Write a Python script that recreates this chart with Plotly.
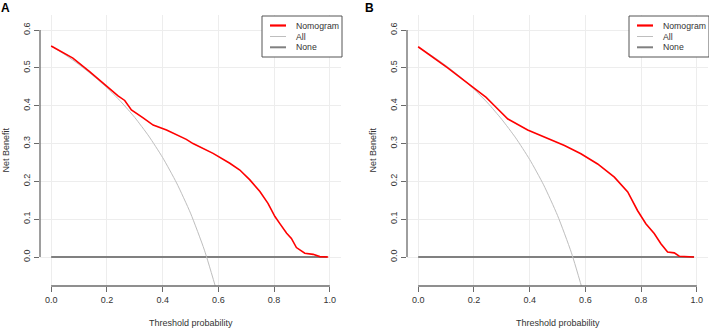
import plotly.graph_objects as go

W, H = 709, 328

# ---------------- data ----------------
thresholds_all = [0.00, 0.05, 0.10, 0.15, 0.20, 0.25, 0.30, 0.35, 0.40, 0.45, 0.50, 0.55, 0.60]
all_a = [0.558, 0.535, 0.509, 0.480, 0.448, 0.411, 0.369, 0.320, 0.263, 0.196, 0.116, 0.018, -0.105]
all_b = [0.555, 0.532, 0.506, 0.477, 0.444, 0.407, 0.364, 0.315, 0.258, 0.191, 0.110, 0.011, -0.113]

nom_a_x = [0.000, 0.078, 0.138, 0.204, 0.240, 0.264, 0.288, 0.330, 0.366, 0.414, 0.461, 0.485,
           0.509, 0.581, 0.641, 0.677, 0.713, 0.749, 0.778, 0.803, 0.820, 0.845, 0.862, 0.880,
           0.910, 0.940, 0.964, 0.994]
nom_a_y = [0.558, 0.526, 0.490, 0.449, 0.426, 0.414, 0.389, 0.368, 0.349, 0.336, 0.320, 0.311,
           0.300, 0.274, 0.248, 0.230, 0.204, 0.173, 0.142, 0.107, 0.089, 0.063, 0.049, 0.025,
           0.010, 0.007, 0.001, 0.000]

nom_b_x = [0.000, 0.106, 0.196, 0.244, 0.274, 0.322, 0.393, 0.465, 0.525, 0.584, 0.644, 0.704,
           0.752, 0.787, 0.817, 0.847, 0.871, 0.895, 0.919, 0.937, 0.990]
nom_b_y = [0.556, 0.500, 0.449, 0.422, 0.400, 0.365, 0.336, 0.313, 0.295, 0.273, 0.246, 0.211,
           0.172, 0.123, 0.088, 0.062, 0.035, 0.013, 0.011, 0.002, 0.000]

none_x = [0.0, 0.99]
none_y = [0.0, 0.0]

x_ticks = [0.0, 0.2, 0.4, 0.6, 0.8, 1.0]
x_tick_labels = ["0.0", "0.2", "0.4", "0.6", "0.8", "1.0"]
y_ticks = [0.0, 0.1, 0.2, 0.3, 0.4, 0.5, 0.6]
y_tick_labels = ["0.0", "0.1", "0.2", "0.3", "0.4", "0.5", "0.6"]

panel_labels = ["A", "B"]
legend_names = ["Nomogram", "All", "None"]

# ---------------- styles ----------------
FONT = "Liberation Sans, Arial, sans-serif"
RED = "#FF0000"
ALL_COL = "#BEBEBE"
NONE_COL = "#808080"
AXIS_COL = "#6a6a6a"
GRID_COL = "#EDEDED"
TXT = "#333333"

def px(x):
    return x / W

def py(y):
    return 1 - y / H

fig = go.Figure()

panels = [
    dict(xa="x", ya="y", all_y=all_a, nx=nom_a_x, ny=nom_a_y),
    dict(xa="x2", ya="y2", all_y=all_b, nx=nom_b_x, ny=nom_b_y),
]
for p in panels:
    fig.add_trace(go.Scatter(x=none_x, y=none_y, mode="lines", xaxis=p["xa"], yaxis=p["ya"],
                             line=dict(color=NONE_COL, width=2), showlegend=False, hoverinfo="skip"))
    fig.add_trace(go.Scatter(x=thresholds_all, y=p["all_y"], mode="lines", xaxis=p["xa"], yaxis=p["ya"],
                             line=dict(color=ALL_COL, width=1, shape="spline", smoothing=0.6),
                             showlegend=False, hoverinfo="skip"))
    fig.add_trace(go.Scatter(x=p["nx"], y=p["ny"], mode="lines", xaxis=p["xa"], yaxis=p["ya"],
                             line=dict(color=RED, width=1.6), showlegend=False, hoverinfo="skip"))

# plot regions (px)
regA = dict(l=40, r=341, t=15, b=286)
regB = dict(l=407, r=708, t=15, b=286)
XR = [-0.04, 1.04]
YR = [-0.0767, 0.640]

axis_common = dict(showline=False, zeroline=False, showgrid=True, gridcolor=GRID_COL, gridwidth=1,
                   ticks="outside", ticklen=5, tickwidth=1, tickcolor=AXIS_COL,
                   tickfont=dict(family=FONT, size=9, color=TXT), fixedrange=True)

layout = dict(
    width=W, height=H, margin=dict(l=0, r=0, t=0, b=0),
    paper_bgcolor="white", plot_bgcolor="white", showlegend=False,
    font=dict(family=FONT, size=9, color=TXT),
)
for i, reg in enumerate([regA, regB]):
    sfx = "" if i == 0 else str(i + 1)
    layout["xaxis" + sfx] = dict(axis_common, domain=[px(reg["l"]), px(reg["r"])], range=XR,
                                 tickvals=x_ticks, ticktext=x_tick_labels,
                                 anchor="y" + sfx)
    layout["yaxis" + sfx] = dict(axis_common, domain=[py(reg["b"]), py(reg["t"])], range=YR,
                                 tickvals=y_ticks, ticktext=y_tick_labels, tickangle=-90,
                                 anchor="x" + sfx)
fig.update_layout(**layout)

shapes = []
annotations = []
for i, reg in enumerate([regA, regB]):
    sfx = "" if i == 0 else str(i + 1)
    xr = "x" + sfx
    yr = "y" + sfx
    # R-style axis lines spanning only the tick range
    shapes.append(dict(type="line", xref=xr, yref=yr + " domain", x0=0, x1=1, y0=0, y1=0,
                       line=dict(color=AXIS_COL, width=1.3)))
    shapes.append(dict(type="line", xref=xr + " domain", yref=yr, x0=0, x1=0, y0=0, y1=0.6,
                       line=dict(color=AXIS_COL, width=1.3)))
    # axis titles
    cx = (reg["l"] + reg["r"]) / 2
    cy = (reg["t"] + reg["b"]) / 2
    annotations.append(dict(text="Threshold probability", xref="paper", yref="paper",
                            x=px(cx), y=py(323), xanchor="center", yanchor="middle",
                            showarrow=False, font=dict(family=FONT, size=9, color=TXT)))
    annotations.append(dict(text="Net Benefit", xref="paper", yref="paper", textangle=-90,
                            x=px(reg["l"] - 35), y=py(cy), xanchor="center", yanchor="middle",
                            showarrow=False, font=dict(family=FONT, size=9, color=TXT)))
    # manual legend box at top-right of plot region
    R = reg["r"] + 1
    shapes.append(dict(type="rect", xref="paper", yref="paper",
                       x0=px(R - 80), x1=px(R), y0=py(57), y1=py(16),
                       line=dict(color="#555555", width=1), fillcolor="white", layer="above"))
    rows = [25.5, 36.5, 47.3]
    cols = [(RED, 2.2), (ALL_COL, 1), (NONE_COL, 2)]
    for name, yy, (c, w) in zip(legend_names, rows, cols):
        shapes.append(dict(type="line", xref="paper", yref="paper",
                           x0=px(R - 72), x1=px(R - 56), y0=py(yy), y1=py(yy),
                           line=dict(color=c, width=w), layer="above"))
        annotations.append(dict(text=name, xref="paper", yref="paper", x=px(R - 48.5), y=py(yy),
                                xanchor="left", yanchor="middle", showarrow=False,
                                font=dict(family=FONT, size=8.7, color=TXT)))

# panel labels
for lab, xx in zip(panel_labels, [5, 369]):
    annotations.append(dict(text="<b>" + lab + "</b>", xref="paper", yref="paper",
                            x=px(xx), y=py(8), xanchor="center", yanchor="middle",
                            showarrow=False, font=dict(family=FONT, size=12, color="black")))

fig.update_layout(shapes=shapes, annotations=annotations)
fig.write_html("out.html", config={"displayModeBar": False},
               post_script="document.body.style.margin='0';document.body.style.overflow='hidden';")
